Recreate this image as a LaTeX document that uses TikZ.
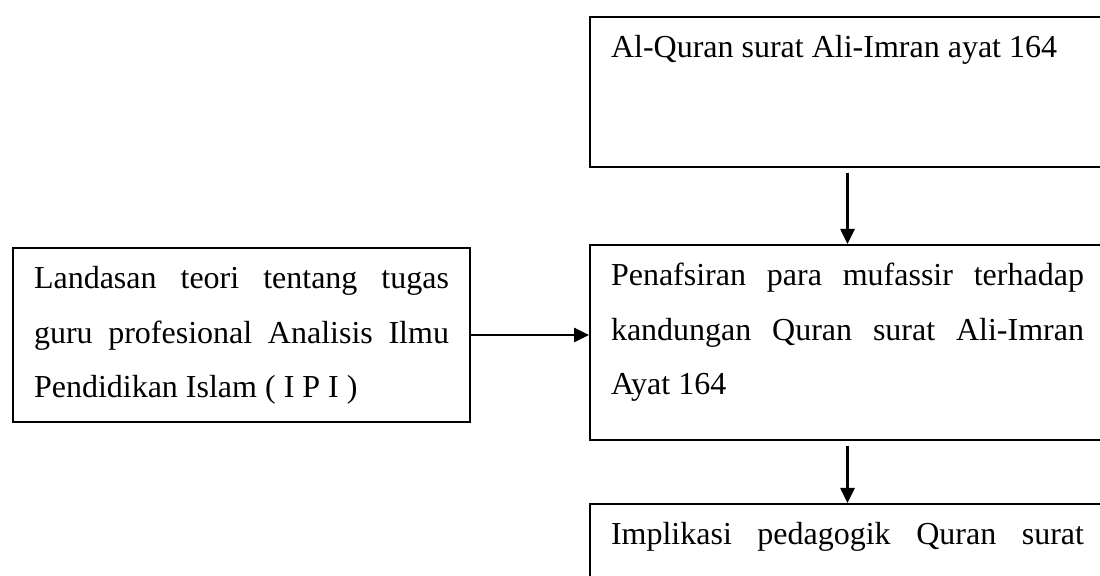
\documentclass[tikz,border=0pt]{standalone}
\usepackage{fontspec}
\setmainfont{Liberation Serif}
\usetikzlibrary{arrows.meta}

% isi kotak: tinggi, lebar teks, teks
\newcommand{\isikotak}[3]{\parbox[b][#1][t]{#2}{\hyphenpenalty=10000\exhyphenpenalty=10000\tolerance=10000\rule{0pt}{20.5pt}#3}}

\begin{document}
\begin{tikzpicture}[x=0.5pt,y=-0.5pt]
			\tikzstyle{fleche}=[->,>={Triangle[length=7.5pt,width=7pt]},line width=1.3pt]
			\tikzstyle{kotak}=[draw,line width=1pt,anchor=north west,inner xsep=10.5pt,inner ysep=0pt,
				font=\fontsize{16pt}{27.25pt}\selectfont]
			
			\def\LebarKanan{236.5pt}
			\def\LebarKiri{207.5pt}
			\def\KolomKanan{589}
			\def\KolomKiri{12}
			
			\useasboundingbox (0,0) rectangle (1100,576);
			\clip (0,0) rectangle (1100,576);
			
			\node[kotak] (T) at (\KolomKanan,16) {\isikotak{75pt}{\LebarKanan}{Al-Quran surat Ali-Imran ayat 164}};
			\node[kotak] (M) at (\KolomKanan,244) {\isikotak{97.5pt}{\LebarKanan}{Penafsiran para mufassir terhadap\linebreak kandungan Quran surat Ali-Imran\linebreak Ayat 164}};
			\node[kotak] (B) at (\KolomKanan,503) {\isikotak{80pt}{\LebarKanan}{Implikasi pedagogik Quran surat\linebreak Ali-Imran ayat 164}};
			\node[kotak] (L) at (\KolomKiri,247) {\isikotak{87pt}{\LebarKiri}{Landasan teori tentang tugas\linebreak guru profesional Analisis Ilmu\linebreak Pendidikan Islam ( I P I )}};
			
			\draw[fleche] ([yshift=-2.5pt]T.south)--(M.north);
			\draw[fleche] ([yshift=-2.5pt]M.south)--(B.north);
			\draw[fleche] (L.east)--(L.east -| M.west);
		\end{tikzpicture}
\end{document}
